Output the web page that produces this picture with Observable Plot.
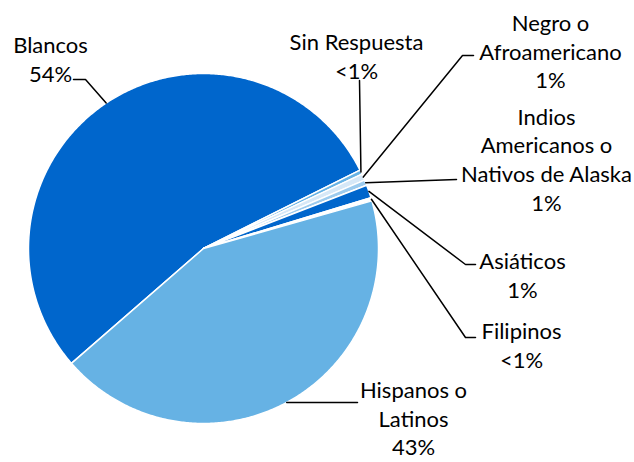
<!DOCTYPE html>
<html>
<head>
<meta charset="utf-8">
<script src="https://cdn.jsdelivr.net/npm/d3@7"></script>
<script src="https://cdn.jsdelivr.net/npm/@observablehq/plot@0.6"></script>
<style>
  html, body { margin: 0; padding: 0; background: #fff; }
  #chart svg { display: block; }
</style>
</head>
<body>
<div id="chart"></div>
<script>
// ---- Data ----
const categories = ["Blancos", "Sin Respuesta", "Negro o Afroamericano", "Indios Americanos o Nativos de Alaska", "Asiáticos", "Filipinos", "Hispanos o Latinos"];
const values = [54, 0.4, 0.6, 0.5, 1.2, 0.3, 43];
const valueLabels = ["54%", "<1%", "1%", "1%", "1%", "<1%", "43%"];
const labelTexts = ["Blancos", "Sin Respuesta", "Negro o\nAfroamericano", "Indios\nAmericanos o\nNativos de Alaska", "Asiáticos", "Filipinos", "Hispanos o\nLatinos"];

// ---- Styles & layout ----
const sliceColors = ["#0066CC", "#66B2E4", "#D6E8F7", "#9CCBEE", "#0066CC", "#FFFFFF", "#66B2E4"];
const W = 634, H = 462;
const cx = 203, cy = 248, R = 175, startDeg = 229;
const labelPos = [[50, 58], [356, 55], [550, 50], [546, 158], [522, 274], [521, 344], [413, 417]];
const leaderPts = [
  [[85, 79], [73, 79]],
  [[359, 80]],
  [[462, 55], [473, 55]],
  [[456, 179]],
  [[465, 264], [475, 264]],
  [[465, 337], [475, 337]],
  [[357, 402]]
];

const table = categories.map((c, i) => ({name: c, value: values[i], color: sliceColors[i], label: labelTexts[i] + "\n" + valueLabels[i]}));
const start = startDeg * Math.PI / 180;
const arcs = d3.pie().sort(null).value(d => d.value).startAngle(start).endAngle(start + 2 * Math.PI)(table);

const pt = (a, rr) => [cx + rr * Math.sin(a), cy - rr * Math.cos(a)];

// Slice polygons
const slicePts = [];
arcs.forEach(a => {
  const n = Math.max(2, Math.ceil((a.endAngle - a.startAngle) / (Math.PI / 360)));
  slicePts.push({name: a.data.name, color: a.data.color, x: cx, y: cy});
  for (let k = 0; k <= n; k++) {
    const ang = a.startAngle + (a.endAngle - a.startAngle) * k / n;
    const [x, y] = pt(ang, R);
    slicePts.push({name: a.data.name, color: a.data.color, x, y});
  }
});

// Leader lines
const leaders = [];
arcs.forEach((a, i) => {
  const mid = (a.startAngle + a.endAngle) / 2;
  const [x0, y0] = pt(mid, R);
  leaders.push({name: a.data.name, x: x0, y: y0});
  leaderPts[i].forEach(([x, y]) => leaders.push({name: a.data.name, x, y}));
});

const labels = table.map((d, i) => ({label: d.label, x: labelPos[i][0], y: labelPos[i][1]}));

const chart = Plot.plot({
  width: W,
  height: H,
  margin: 0,
  x: {domain: [0, W], range: [0, W], axis: null},
  y: {domain: [0, H], range: [0, H], axis: null},
  color: {type: "identity"},
  style: {fontFamily: "Lato, 'Noto Sans', sans-serif", background: "#fff"},
  marks: [
    Plot.line(slicePts, {x: "x", y: "y", z: "name", fill: "color", stroke: "#fff", strokeWidth: 1.5, curve: "linear-closed", strokeLinejoin: "round"}),
    Plot.line(leaders, {x: "x", y: "y", z: "name", stroke: "#000", strokeWidth: 1.5}),
    Plot.text(labels, {x: "x", y: "y", text: "label", fontSize: 22, lineHeight: 1.3, textAnchor: "middle", lineAnchor: "middle", fill: "#000"})
  ]
});
document.getElementById("chart").appendChild(chart);
</script>
</body>
</html>
